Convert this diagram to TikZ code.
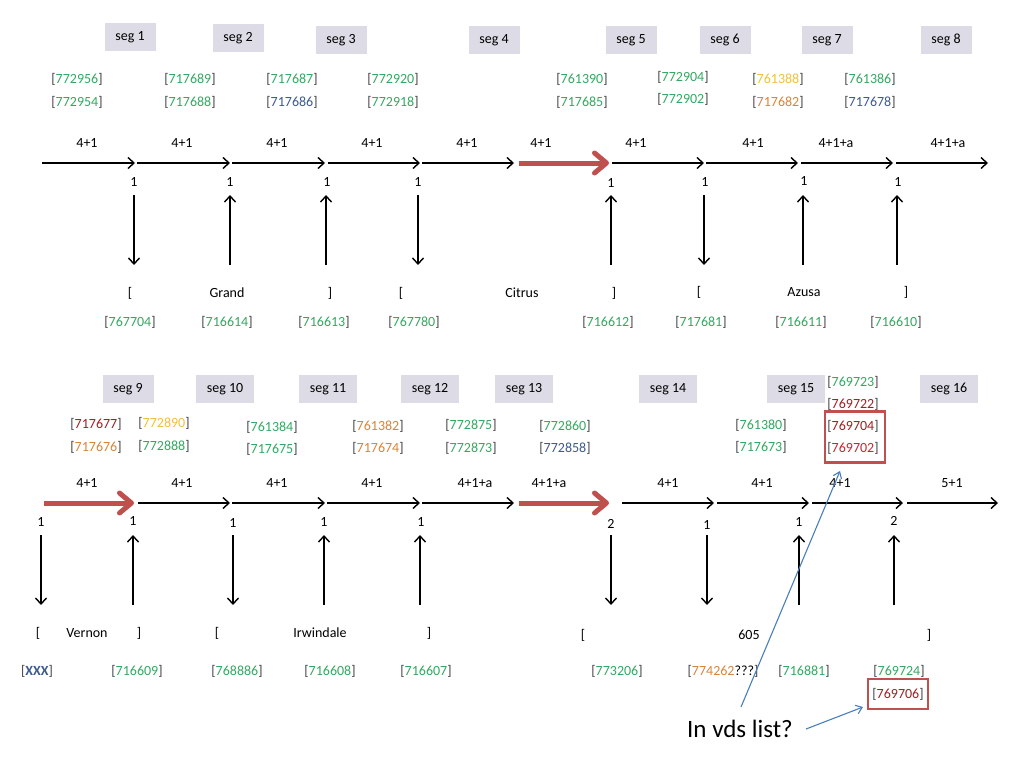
\documentclass[tikz,border=0pt]{standalone}
\usepackage{fontspec}
\setmainfont{Carlito}
\usetikzlibrary{arrows.meta}
\definecolor{cg}{HTML}{33A860}
\definecolor{cb}{HTML}{3C5A8C}
\definecolor{cy}{HTML}{F0C03A}
\definecolor{co}{HTML}{D9843A}
\definecolor{cdr}{HTML}{9E1F24}
\definecolor{cr}{HTML}{C4262E}
\definecolor{brk}{HTML}{404040}
\definecolor{segfill}{HTML}{DDDCE6}
\definecolor{rarrow}{HTML}{C0504D}
\definecolor{barrow}{HTML}{4A7EBB}
\newcommand{\nb}[2]{{\color{brk}[}{\color{#2}#1}{\color{brk}]}}
\tikzset{
  every node/.style={inner sep=0pt, font=\fontsize{14}{16}\selectfont},
  segbox/.style={fill=segfill, minimum width=51pt, minimum height=28pt},
  segboxw/.style={fill=segfill, minimum width=58pt, minimum height=28pt},
  ar/.style={line width=1.4pt, -{Straight Barb[length=6pt,width=11pt]}},
  redar/.style={rarrow, line width=5pt, -{Straight Barb[length=12pt,width=20pt,line cap=round,line join=round]}},
  bluear/.style={barrow, line width=1.1pt, -{Straight Barb[length=6pt,width=9pt]}},
  redbox/.style={draw=rarrow, line width=2.5pt},
}
\begin{document}
\begin{tikzpicture}[x=1pt,y=-1pt]
\useasboundingbox (0,0) rectangle (1024,768);

% ---------- top half ----------
\node[segbox] (s1) at (130,37) {seg 1};
\node[segbox] (s2) at (238,38) {seg 2};
\node[segbox] (s3) at (341,40) {seg 3};
\node[segbox] (s4) at (494,40) {seg 4};
\node[segbox] (s5) at (631,40) {seg 5};
\node[segbox] (s6) at (725,40) {seg 6};
\node[segbox] (s7) at (827,40) {seg 7};
\node[segbox] (s8) at (946,40) {seg 8};

\node (a1) at (77,79) {\nb{772956}{cg}};
\node (b1) at (77,102) {\nb{772954}{cg}};
\node (a2) at (190,79) {\nb{717689}{cg}};
\node (b2) at (190,102) {\nb{717688}{cg}};
\node (a3) at (292,79) {\nb{717687}{cg}};
\node (b3) at (292,102) {\nb{717686}{cb}};
\node (a4) at (393,79) {\nb{772920}{cg}};
\node (b4) at (393,102) {\nb{772918}{cg}};
\node (a5) at (582,79) {\nb{761390}{cg}};
\node (b5) at (582,102) {\nb{717685}{cg}};
\node (a6) at (683,77) {\nb{772904}{cg}};
\node (b6) at (683,99) {\nb{772902}{cg}};
\node (a7) at (778,79) {\nb{761388}{cy}};
\node (b7) at (778,102) {\nb{717682}{co}};
\node (a8) at (870,79) {\nb{761386}{cg}};
\node (b8) at (870,102) {\nb{717678}{cb}};

% horizontal arrows, top
\foreach \i/\a/\b in {1/42/135,2/137/230,3/232/325,4/328/420,5/422/514,7/612/704,8/706/798,9/801/893,10/896/988}{
  \coordinate (ths\i) at (\a,163);
  \coordinate (the\i) at (\b,163);
  \draw[ar] (ths\i) -- (the\i);
}
\coordinate (ths6) at (519,163);
\coordinate (the6) at (609,163);
\draw[redar] (ths6) -- (the6);

\foreach \x/\t in {87/4+1,182/4+1,277/4+1,372/4+1,467/4+1,541/4+1,636/4+1,753/4+1,836/4+1+a,948/4+1+a}{
  \node at (\x,143) {\t};
}
\foreach \x/\y in {134/182,230/182,327/182,418/182,611/183,705/182,804/181,898/182}{
  \node at (\x,\y) {1};
}

% vertical arrows, top
\foreach \i/\x/\d in {1/134/d,2/230/u,3/326/u,4/418/d,5/611/u,6/704/d,7/803/u,8/897/u}{
  \coordinate (tvt\i) at (\x,195);
  \coordinate (tvb\i) at (\x,265);
  \if\d d \draw[ar] (tvt\i) -- (tvb\i); \else \draw[ar] (tvb\i) -- (tvt\i); \fi
}

\node at (130,293) {[};
\node at (227,293) {Grand};
\node at (330,293) {]};
\node at (401,293) {[};
\node at (522,293) {Citrus};
\node at (614,293) {]};
\node at (699,292) {[};
\node at (804,292) {Azusa};
\node at (906,292) {]};

\node (c1) at (130,322) {\nb{767704}{cg}};
\node (c2) at (227,322) {\nb{716614}{cg}};
\node (c3) at (324,322) {\nb{716613}{cg}};
\node (c4) at (414,322) {\nb{767780}{cg}};
\node (c5) at (608,322) {\nb{716612}{cg}};
\node (c6) at (701,322) {\nb{717681}{cg}};
\node (c7) at (801,322) {\nb{716611}{cg}};
\node (c8) at (896,322) {\nb{716610}{cg}};

% ---------- bottom half ----------
\node[segbox] (s9) at (128,389) {seg 9};
\node[segboxw] (s10) at (225,389) {seg 10};
\node[segboxw] (s11) at (328,389) {seg 11};
\node[segboxw] (s12) at (430,389) {seg 12};
\node[segboxw] (s13) at (524,389) {seg 13};
\node[segboxw] (s14) at (668,389) {seg 14};
\node[segboxw] (s15) at (796,389) {seg 15};
\node[segboxw] (s16) at (949,389) {seg 16};

\node (d1) at (96,424) {\nb{717677}{cdr}};
\node (e1) at (96,447) {\nb{717676}{co}};
\node (d2) at (164,423) {\nb{772890}{cy}};
\node (e2) at (164,446) {\nb{772888}{cg}};
\node (d3) at (272,427) {\nb{761384}{cg}};
\node (e3) at (272,449) {\nb{717675}{cg}};
\node (d4) at (378,426) {\nb{761382}{co}};
\node (e4) at (378,448) {\nb{717674}{co}};
\node (d5) at (471,425) {\nb{772875}{cg}};
\node (e5) at (471,448) {\nb{772873}{cg}};
\node (d6) at (565,426) {\nb{772860}{cg}};
\node (e6) at (565,448) {\nb{772858}{cb}};
\node (d7) at (761,425) {\nb{761380}{cg}};
\node (e7) at (761,447) {\nb{717673}{cg}};
\node (f1) at (853,382) {\nb{769723}{cg}};
\node (f2) at (853,404) {\nb{769722}{cdr}};
\node (f3) at (853,426) {\nb{769704}{cdr}};
\node (f4) at (853,448) {\nb{769702}{cr}};
\node[redbox, minimum width=60pt, minimum height=51pt] (rb1) at (855,437) {};

% horizontal arrows, bottom
\foreach \i/\a/\b in {2/138/230,3/232/325,4/327/420,5/422/514,7/622/714,8/717/809,9/812/903,10/907/998}{
  \coordinate (bhs\i) at (\a,503);
  \coordinate (bhe\i) at (\b,503);
  \draw[ar] (bhs\i) -- (bhe\i);
}
\coordinate (bhs1) at (44,503);
\coordinate (bhe1) at (134,503);
\draw[redar] (bhs1) -- (bhe1);
\coordinate (bhs6) at (519,503);
\coordinate (bhe6) at (609,503);
\draw[redar] (bhs6) -- (bhe6);

\foreach \x/\t in {87/4+1,182/4+1,277/4+1,372/4+1,475/4+1+a,549/4+1+a,668/4+1,762/4+1,840/4+1,952/5+1}{
  \node at (\x,483) {\t};
}
\foreach \x/\y/\t in {41/522/1,133/521/1,233/523/1,324/522/1,421/522/1,611/524/2,707/525/1,799/522/1,894/521/2}{
  \node at (\x,\y) {\t};
}

% vertical arrows, bottom
\foreach \i/\x/\d in {1/41/d,2/133/u,3/233/d,4/324/u,5/420/u,6/611/d,7/707/d,8/799/u,9/894/u}{
  \coordinate (bvt\i) at (\x,535);
  \coordinate (bvb\i) at (\x,605);
  \if\d d \draw[ar] (bvt\i) -- (bvb\i); \else \draw[ar] (bvb\i) -- (bvt\i); \fi
}

\node at (38,633) {[};
\node at (87,633) {Vernon};
\node at (139,633) {]};
\node at (217,633) {[};
\node at (320,633) {Irwindale};
\node at (429,633) {]};
\node at (583,635) {[};
\node at (749,635) {605};
\node at (929,635) {]};

\node (g1) at (37,671) {{\color{brk}[}{\color{cb}\bfseries XXX}{\color{brk}]}};
\node (g2) at (137,671) {\nb{716609}{cg}};
\node (g3) at (237,671) {\nb{768886}{cg}};
\node (g4) at (330,671) {\nb{716608}{cg}};
\node (g5) at (426,671) {\nb{716607}{cg}};
\node (g6) at (617,671) {\nb{773206}{cg}};
\node (g7) at (723,671) {{\color{brk}[}{\color{co}774262}???{\color{brk}]}};
\node (g8) at (804,671) {\nb{716881}{cg}};
\node (g9) at (899,671) {\nb{769724}{cg}};
\node[redbox, minimum width=60pt, minimum height=30pt] (rb2) at (898,694) {\nb{769706}{cdr}};

\node[font=\fontsize{25}{28}\selectfont] (q) at (740,729) {In vds list?};
\coordinate (q1) at (741,707);
\coordinate (q2) at (806,729);
\coordinate (t1) at (840,471);
\coordinate (t2) at (863,707);
\draw[bluear] (q1) -- (t1);
\draw[bluear] (q2) -- (t2);
\end{tikzpicture}
\end{document}
